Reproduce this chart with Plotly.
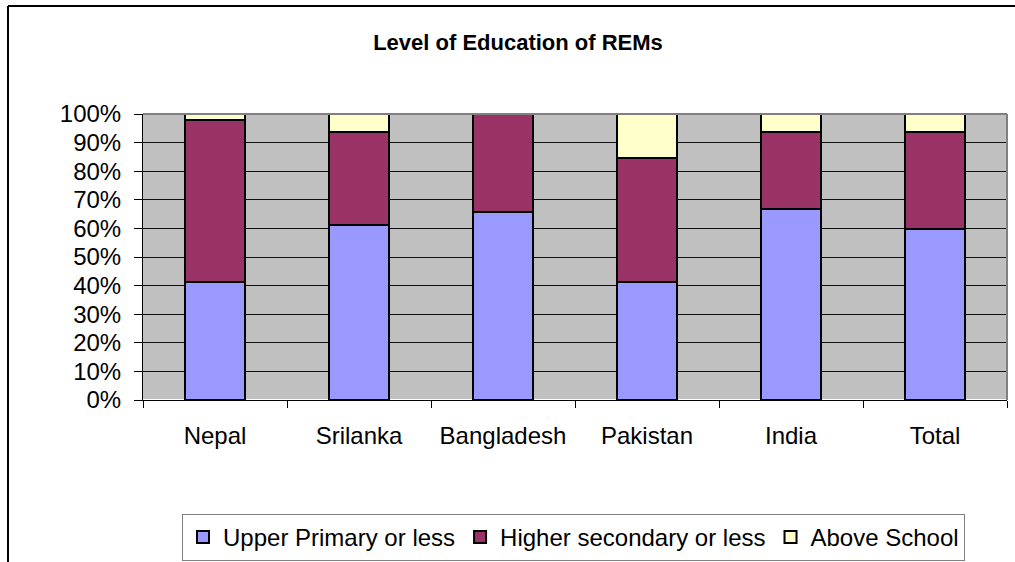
import plotly.graph_objects as go

categories = ["Nepal", "Srilanka", "Bangladesh", "Pakistan", "India", "Total"]
upper_primary = [41.4, 61.2, 65.8, 41.4, 66.7, 59.8]
higher_secondary = [56.5, 32.6, 34.2, 43.1, 27.1, 34.0]
above_school = [2.1, 6.2, 0.0, 15.5, 6.2, 6.2]

series_names = ["Upper Primary or less", "Higher secondary or less", "Above School"]
series_values = [upper_primary, higher_secondary, above_school]
series_colors = ["#9999FF", "#993366", "#FFFFCC"]

FONT = "Liberation Sans, Arial, sans-serif"

fig = go.Figure()
for name, vals, col in zip(series_names, series_values, series_colors):
    fig.add_trace(go.Bar(
        x=categories, y=[v / 100 for v in vals], name=name,
        marker=dict(color=col, line=dict(color="black", width=2)),
    ))

W, H = 1015, 562
L, R, T, B = 143, 8, 114, 162
pw, ph = W - L - R, H - T - B

def px(x):
    return (x - L) / pw

def py(y):
    return (H - B - y) / ph

fig.update_layout(
    width=W, height=H,
    barmode="stack", bargap=0.59,
    margin=dict(l=L, r=R, t=T, b=B, autoexpand=False),
    paper_bgcolor="white", plot_bgcolor="#C0C0C0",
    font=dict(family=FONT, size=24, color="black"),
    title=dict(text="<b>Level of Education of REMs</b>", xref="container", x=518 / W,
               xanchor="center", yref="container", y=1 - 42 / H, yanchor="middle",
               font=dict(family=FONT, size=22, color="black")),
    legend=dict(orientation="h", xref="container", x=573.5 / W, xanchor="center",
                yref="container", y=1 - 514 / H, yanchor="top",
                bordercolor="#808080", borderwidth=1, bgcolor="white",
                font=dict(family=FONT, size=24), traceorder="normal", itemwidth=30),
    showlegend=True,
    xaxis=dict(showgrid=False, ticks="outside", tickson="boundaries", ticklen=7,
               tickcolor="black", showline=True, linecolor="black", linewidth=1,
               tickfont=dict(size=24), ticklabelstandoff=14, fixedrange=True),
    yaxis=dict(range=[0, 1], dtick=0.1, tickformat=".0%", ticks="outside", ticklen=8,
               tickcolor="black", showgrid=True, gridcolor="#111111", gridwidth=1,
               showline=True, linecolor="black", linewidth=1,
               tickfont=dict(size=24), ticklabelstandoff=8, fixedrange=True),
    shapes=[
        dict(type="line", xref="paper", yref="paper", x0=0, x1=1, y0=1, y1=1,
             line=dict(color="#808080", width=2)),
        dict(type="line", xref="paper", yref="paper", x0=1, x1=1, y0=0, y1=1,
             line=dict(color="#808080", width=2)),
        dict(type="line", xref="paper", yref="paper", x0=px(8), x1=px(8), y0=py(6), y1=py(H + 5),
             line=dict(color="black", width=2)),
        dict(type="line", xref="paper", yref="paper", x0=px(8), x1=px(W + 5), y0=py(6), y1=py(6),
             line=dict(color="black", width=2)),
    ],
)

fig.write_html("out.html", config={"displayModeBar": False},
               post_script="document.body.style.margin='0';document.body.style.overflow='hidden';")
